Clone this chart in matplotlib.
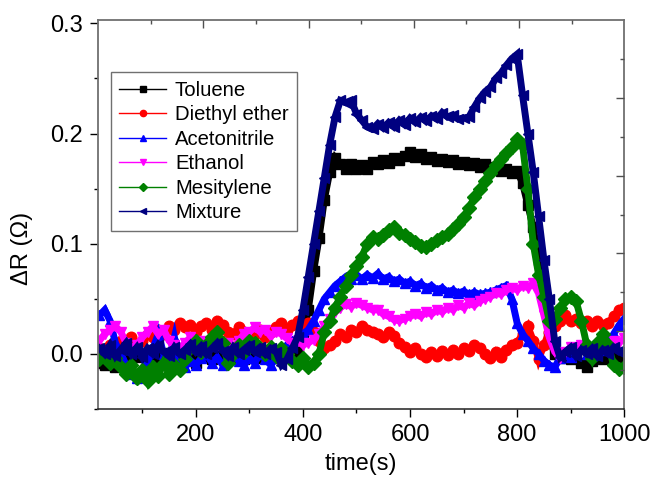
import numpy as np
import matplotlib
matplotlib.use("Agg")
import matplotlib.pyplot as plt
from matplotlib.ticker import FixedLocator, NullFormatter
from matplotlib.lines import Line2D

# ---------------- data ----------------
time_s = np.arange(20, 1001, 10)

toluene = [
    -0.008, -0.010, -0.006, -0.012, -0.004, 0.000, -0.005, 0.002, -0.003, 0.000,
    -0.006, 0.002, -0.004, 0.001, -0.005, -0.002, 0.002, -0.004, -0.008, -0.003,
    0.001, -0.005, 0.000, -0.004, 0.002, -0.003, 0.000, -0.005, 0.001, -0.004,
    0.000, -0.003, 0.002, -0.004, -0.001, -0.003, 0.000, 0.003, 0.015, 0.040,
    0.075, 0.105, 0.140, 0.165, 0.178, 0.172, 0.168, 0.172, 0.168, 0.171,
    0.168, 0.174, 0.172, 0.176, 0.173, 0.178, 0.176, 0.180, 0.183, 0.179,
    0.181, 0.177, 0.179, 0.175, 0.177, 0.174, 0.176, 0.172, 0.174, 0.171,
    0.173, 0.170, 0.172, 0.168, 0.170, 0.166, 0.168, 0.164, 0.166, 0.155,
    0.135, 0.115, 0.085, 0.050, 0.015, 0.000, -0.004, 0.000, -0.005, -0.002,
    -0.008, -0.012, -0.006, -0.002, -0.005, 0.000, -0.004, -0.002, -0.005]

diethyl_ether = [
    0.005, 0.000, 0.008, 0.004, 0.012, 0.010, 0.015, 0.008, 0.012, 0.018,
    0.015, 0.022, 0.018, 0.025, 0.022, 0.028, 0.024, 0.026, 0.020, 0.025,
    0.028, 0.022, 0.030, 0.026, 0.020, 0.018, 0.024, 0.020, 0.016, 0.018,
    0.022, 0.015, 0.020, 0.024, 0.028, 0.022, 0.026, 0.030, 0.025, 0.028,
    0.020, 0.012, 0.005, 0.008, 0.012, 0.018, 0.015, 0.022, 0.020, 0.025,
    0.022, 0.020, 0.018, 0.015, 0.020, 0.016, 0.010, 0.006, 0.002, 0.005,
    0.000, -0.003, 0.002, -0.002, 0.003, -0.001, 0.004, 0.000, 0.005, 0.003,
    0.008, 0.005, 0.000, -0.004, 0.002, -0.003, 0.004, 0.008, 0.010, 0.018,
    0.025, 0.012, -0.005, 0.008, 0.020, 0.025, 0.030, 0.035, 0.030, 0.032,
    0.028, 0.030, 0.025, 0.030, 0.026, 0.028, 0.034, 0.040, 0.042]

acetonitrile = [
    0.035, 0.040, 0.030, 0.010, 0.000, -0.010, -0.018, -0.022, -0.015, -0.008,
    0.005, 0.018, 0.000, -0.005, 0.015, -0.010, -0.012, -0.006, -0.010, -0.004,
    0.000, -0.008, -0.003, -0.010, -0.005, 0.000, -0.006, -0.010, -0.004, -0.008,
    0.000, -0.005, -0.010, -0.004, 0.002, 0.008, 0.012, 0.015, 0.018, 0.022,
    0.030, 0.040, 0.050, 0.056, 0.062, 0.066, 0.070, 0.068, 0.072, 0.068,
    0.072, 0.069, 0.073, 0.068, 0.070, 0.066, 0.068, 0.064, 0.066, 0.062,
    0.064, 0.060, 0.062, 0.058, 0.060, 0.056, 0.058, 0.055, 0.057, 0.054,
    0.056, 0.054, 0.055, 0.056, 0.058, 0.060, 0.062, 0.050, 0.028, 0.018,
    0.012, 0.005, 0.000, -0.006, -0.010, -0.012, -0.004, 0.000, -0.003, 0.002,
    0.005, 0.000, 0.004, 0.008, 0.004, 0.010, 0.018, 0.026, 0.032]

ethanol = [
    0.012, 0.018, 0.022, 0.025, 0.020, 0.010, 0.005, 0.008, 0.015, 0.020,
    0.025, 0.018, 0.022, 0.012, 0.008, 0.005, 0.010, 0.015, 0.008, 0.012,
    0.005, 0.010, 0.008, 0.004, 0.010, 0.006, 0.012, 0.018, 0.020, 0.024,
    0.020, 0.022, 0.016, 0.020, 0.018, 0.014, 0.010, 0.012, 0.008, 0.010,
    0.013, 0.018, 0.025, 0.032, 0.038, 0.042, 0.045, 0.043, 0.046, 0.044,
    0.042, 0.040, 0.040, 0.036, 0.034, 0.031, 0.030, 0.032, 0.034, 0.036,
    0.034, 0.038, 0.036, 0.040, 0.038, 0.042, 0.040, 0.044, 0.042, 0.046,
    0.044, 0.048, 0.050, 0.052, 0.055, 0.054, 0.058, 0.060, 0.058, 0.062,
    0.060, 0.064, 0.055, 0.035, 0.015, 0.002, -0.004, 0.002, 0.006, 0.003,
    0.008, 0.004, 0.002, 0.006, 0.010, 0.008, 0.012, 0.010, 0.014]

mesitylene = [
    -0.005, -0.002, -0.008, -0.004, -0.012, -0.018, -0.010, -0.022, -0.015, -0.025,
    -0.012, -0.020, -0.008, -0.018, -0.010, -0.015, -0.005, 0.005, 0.012, 0.002,
    0.008, 0.015, 0.020, 0.010, -0.008, 0.000, 0.008, 0.002, 0.012, 0.010,
    0.004, 0.000, 0.006, -0.002, 0.005, 0.000, -0.006, -0.010, -0.004, -0.012,
    -0.008, 0.000, 0.020, 0.030, 0.042, 0.052, 0.062, 0.072, 0.080, 0.088,
    0.100, 0.106, 0.104, 0.108, 0.112, 0.115, 0.110, 0.108, 0.104, 0.102,
    0.098, 0.097, 0.100, 0.103, 0.106, 0.109, 0.113, 0.118, 0.124, 0.132,
    0.142, 0.150, 0.157, 0.164, 0.171, 0.177, 0.182, 0.188, 0.195, 0.190,
    0.150, 0.100, 0.072, 0.052, 0.030, 0.032, 0.042, 0.050, 0.052, 0.048,
    0.030, 0.008, -0.004, 0.010, 0.018, 0.008, -0.010, -0.014, -0.012]

mixture = [
    0.005, 0.000, 0.008, -0.002, 0.004, 0.010, 0.000, 0.006, -0.003, 0.005,
    0.000, 0.008, 0.002, -0.002, 0.006, 0.000, 0.004, 0.009, 0.002, 0.007,
    0.000, 0.005, 0.010, 0.003, -0.002, 0.006, 0.000, 0.004, 0.008, 0.002,
    0.006, 0.000, 0.005, 0.002, -0.010, -0.005, 0.005, 0.015, 0.040, 0.070,
    0.100, 0.130, 0.160, 0.190, 0.215, 0.230, 0.228, 0.230, 0.218, 0.212,
    0.206, 0.204, 0.209, 0.205, 0.210, 0.206, 0.212, 0.208, 0.214, 0.210,
    0.215, 0.211, 0.216, 0.213, 0.219, 0.215, 0.217, 0.213, 0.214, 0.215,
    0.224, 0.232, 0.238, 0.242, 0.250, 0.255, 0.262, 0.268, 0.272, 0.235,
    0.200, 0.165, 0.125, 0.085, 0.050, 0.012, -0.003, 0.002, 0.006, -0.002,
    0.004, 0.000, 0.005, -0.002, 0.004, 0.000, 0.006, 0.002, 0.004]

series_names = ["Toluene", "Diethyl ether", "Acetonitrile", "Ethanol",
                "Mesitylene", "Mixture"]
series_values = [toluene, diethyl_ether, acetonitrile, ethanol, mesitylene, mixture]
series_colors = ["#000000", "#ff0000", "#0000ff", "#ff00ff", "#008000", "#000080"]
series_markers = ["s", "o", "^", "v", "D", "<"]

# ---------------- figure ----------------
plt.rcParams["font.family"] = ["Liberation Sans", "DejaVu Sans"]
fig = plt.figure(figsize=(6.57, 4.80), dpi=100)
rect = [0.1496, 0.1479, 0.8006, 0.8104]
ax = fig.add_axes(rect)

for name, vals, col, mk in zip(series_names, series_values, series_colors, series_markers):
    ms = 6.8 if mk == "D" else 7.6
    ax.plot(time_s, vals, color=col, marker=mk, markersize=ms, mec=col, mfc=col,
            linewidth=5.0, solid_joinstyle="miter", label=name)

ax.set_xlim(18, 1000)
ax.set_ylim(-0.05, 0.303)

ax.xaxis.set_major_locator(FixedLocator([200, 400, 600, 800, 1000]))
ax.xaxis.set_minor_locator(FixedLocator([100, 300, 500, 700, 900]))
ax.yaxis.set_major_locator(FixedLocator([0.0, 0.1, 0.2, 0.3]))
ax.yaxis.set_minor_locator(FixedLocator([-0.05, 0.05, 0.15, 0.25]))
ax.set_yticklabels(["0.0", "0.1", "0.2", "0.3"])

ax.tick_params(which="both", direction="out", top=False, right=False,
               labelsize=17, colors="#000000")
ax.tick_params(which="major", length=6, width=1.0, pad=5)
ax.tick_params(which="minor", length=3, width=1.0)

for side in ["left", "top", "right"]:
    ax.spines[side].set_color("#707070")
    ax.spines[side].set_linewidth(1.3)
ax.spines["bottom"].set_color("#202020")
ax.spines["bottom"].set_linewidth(1.1)

# overlay axes for Origin-style inward ticks on top and right (fractional scale)
ov = fig.add_axes(rect, frameon=False)
ov.patch.set_visible(False)
ov.set_xlim(0, 1)
ov.set_ylim(0, 1)
ov.xaxis.set_major_locator(FixedLocator([0.2, 0.4, 0.6, 0.8]))
ov.xaxis.set_minor_locator(FixedLocator([0.1, 0.3, 0.5, 0.7, 0.9]))
ov.yaxis.set_major_locator(FixedLocator([0.2, 0.4, 0.6, 0.8]))
ov.yaxis.set_minor_locator(FixedLocator([0.1, 0.3, 0.5, 0.7, 0.9]))
ov.tick_params(which="both", direction="in", top=True, right=True,
               bottom=False, left=False, labelbottom=False, labelleft=False,
               labeltop=False, labelright=False, color="#505050", width=1.0)
ov.tick_params(which="major", length=6)
ov.tick_params(which="minor", length=3)

ax.set_xlabel("time(s)", fontsize=17, labelpad=5)
ax.set_ylabel("ΔR (Ω)", fontsize=17)
ax.yaxis.set_label_coords(-0.124, 0.414)

handles = [Line2D([], [], color=c, marker=m, markersize=4.5, mec=c, mfc=c, linewidth=1.0)
           for c, m in zip(series_colors, series_markers)]
leg = ax.legend(handles, series_names, loc="upper left", bbox_to_anchor=(0.0236, 0.8656),
                borderaxespad=0, fontsize=14.6, frameon=True, fancybox=False,
                edgecolor="#707070", framealpha=1,
                handlelength=2.3, handletextpad=0.45, labelspacing=0.27,
                borderpad=0.42)
leg.get_frame().set_linewidth(1.0)

fig.savefig("out.png", dpi=100)
